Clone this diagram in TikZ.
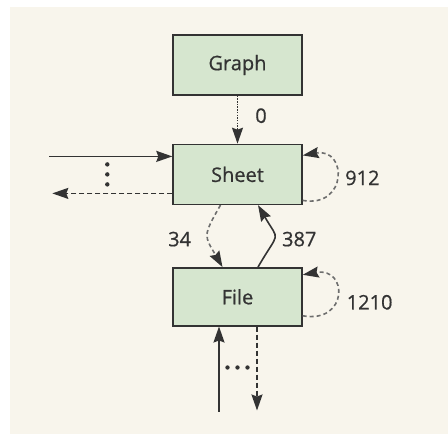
\documentclass[tikz,border=0pt]{standalone}
\usepackage{fontspec}
\setmainfont{Open Sans}[FakeBold=0.6, AutoFakeBold=0.6]
\usetikzlibrary{arrows.meta,positioning,calc}
\usepackage{xcolor}
\definecolor{paper}{HTML}{F8F5EC}
\definecolor{boxgreen}{HTML}{D6E6CF}
\definecolor{ink}{HTML}{333333}
\definecolor{softink}{HTML}{6E6E6E}

\begin{document}
\begin{tikzpicture}[
    font=\fontsize{20}{22}\selectfont\bfseries,
    >={Stealth[length=16pt,width=11pt,inset=2pt]},
    table/.style={draw=ink, line width=1.4pt, fill=boxgreen, minimum width=129pt, minimum height=60pt, text=ink, inner sep=0pt},
    num/.style={text=ink, inner sep=2pt},
    flow/.style={draw=ink, line width=1.6pt, ->},
    back/.style={flow, dash pattern=on 5pt off 3pt},
    probe/.style={flow, dash pattern=on 1.5pt off 1.2pt},
    softflow/.style={draw=softink, line width=1.6pt, dash pattern=on 4pt off 3pt, -{Stealth[length=16pt,width=11pt,inset=2pt,color=ink]}}
]
% canvas
\fill[white] (0,0) rectangle (448pt,-436pt);
\fill[paper] (10pt,-7pt) rectangle (448pt,-434pt);
\useasboundingbox (0,0) rectangle (448pt,-436pt);

% tables
\node[table] (graph) at (237.5pt,-65pt) {Graph};
\node[table, below=48pt of graph] (sheet) {Sheet};
\node[table, below=62pt of sheet, minimum height=58pt] (file) {File};

% free ends
\coordinate (inL) at ([xshift=-123pt,yshift=18pt]sheet.west);
\coordinate (outL) at ([xshift=-120pt,yshift=-19pt]sheet.west);
\coordinate (inB) at ([xshift=-18.5pt,yshift=-85pt]file.south);
\coordinate (outB) at ([xshift=19.5pt,yshift=-84pt]file.south);

% graph -> sheet
\draw[probe] (graph.south) -- node[midway, right=15pt, yshift=4pt, num] {0} (sheet.north);

% left side of sheet
\draw[flow] (inL) -- (inL -| sheet.west);
\draw[back] (outL -| sheet.west) -- (outL);
\foreach \d in {-10,0,10}
  \fill[ink] ([xshift=-65pt,yshift=\d pt]sheet.west) circle (2.2pt);

% self loops
\draw[softflow] ([yshift=-26pt]sheet.east) to[out=-10,in=10,looseness=2.6]
  node[midway, right=6pt, num] {912} ([yshift=19pt]sheet.east);
\draw[softflow] ([yshift=-19pt]file.east) to[out=-10,in=10,looseness=2.9]
  node[midway, right=7pt, yshift=-7pt, num] {1210} ([yshift=22pt]file.east);

% sheet <-> file
\draw[softflow] ([xshift=-17pt]sheet.south) to[out=240,in=120,looseness=1.5]
  node[midway, left=14pt, yshift=-3pt, num] {34} ([xshift=-15pt]file.north);
\draw[flow] ([xshift=20.5pt]file.north) to[out=60,in=-60,looseness=1.8]
  node[midway, right=5pt, yshift=-3pt, num] {387} ([xshift=20.5pt]sheet.south);

% below file
\draw[flow] (inB) -- (inB |- file.south);
\draw[back] (outB |- file.south) -- (outB);
\foreach \d in {-10,0,10}
  \fill[ink] ([xshift=\d pt,yshift=-41pt]file.south) circle (2.2pt);
\end{tikzpicture}
\end{document}
